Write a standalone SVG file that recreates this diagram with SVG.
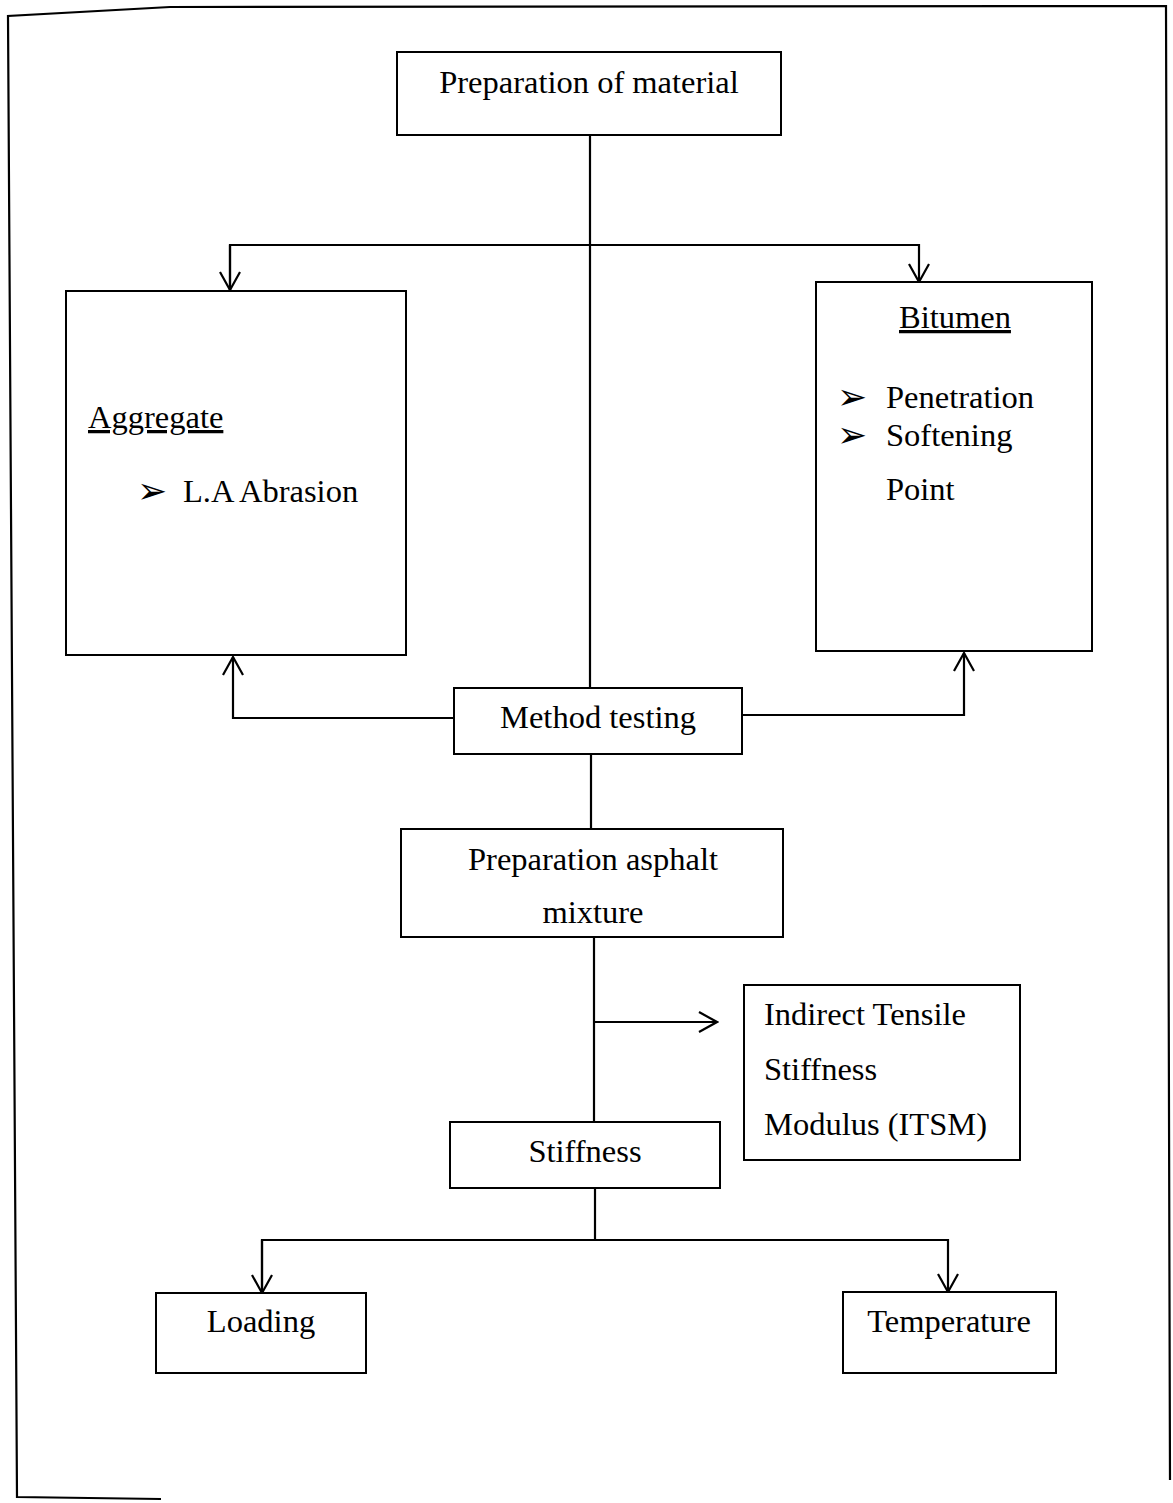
<svg xmlns="http://www.w3.org/2000/svg" width="1173" height="1503" viewBox="0 0 1173 1503">
<style>
.box{fill:#fff;stroke:#000;stroke-width:2}
.t{font-family:"Liberation Serif","Times New Roman",serif;font-size:32.5px;fill:#000}
.c{text-anchor:middle}
.b{font-family:"DejaVu Sans",sans-serif;font-size:36px;fill:#000}
.ln{fill:none;stroke:#000;stroke-width:2.2}
</style>
<defs>
<marker id="ah" viewBox="-20 -12 22 24" refX="0" refY="0" markerWidth="22" markerHeight="24" markerUnits="userSpaceOnUse" orient="auto">
<path d="M-18,-10 L0,0 L-18,10" fill="none" stroke="#000" stroke-width="2.2"/>
</marker>
</defs>
<rect width="1173" height="1503" fill="#fff"/>
<polyline class="ln" points="161,1499 17,1497 8,16 170,7 1166,6 1170,1480" />

<g id="connectors">
<line class="ln" x1="590" y1="135" x2="590" y2="688"/>
<polyline class="ln" points="230,290 230,245 919,245 919,282" marker-end="url(#ah)"/>
<line class="ln" x1="230" y1="245" x2="230" y2="290" marker-end="url(#ah)"/>
<polyline class="ln" points="454,718 233,718 233,657" marker-end="url(#ah)"/>
<polyline class="ln" points="742,715 964,715 964,653" marker-end="url(#ah)"/>
<line class="ln" x1="591" y1="754" x2="591" y2="829"/>
<line class="ln" x1="594" y1="937" x2="594" y2="1122"/>
<line class="ln" x1="594" y1="1022" x2="717" y2="1022" marker-end="url(#ah)"/>
<line class="ln" x1="595" y1="1188" x2="595" y2="1240"/>
<polyline class="ln" points="262,1293 262,1240 948,1240 948,1292" marker-end="url(#ah)"/>
<line class="ln" x1="262" y1="1240" x2="262" y2="1293" marker-end="url(#ah)"/>
</g>

<g id="prep-material">
<rect class="box" x="397" y="52" width="384" height="83"/>
<text class="t c" x="589" y="93">Preparation of material</text>
</g>

<g id="aggregate">
<rect class="box" x="66" y="291" width="340" height="364"/>
<text class="t" x="88" y="428" text-decoration="underline">Aggregate</text>
<text class="b" x="137" y="503">➢</text>
<text class="t" x="183" y="502">L.A Abrasion</text>
</g>

<g id="bitumen">
<rect class="box" x="816" y="282" width="276" height="369"/>
<text class="t" x="899" y="328" text-decoration="underline">Bitumen</text>
<text class="b" x="837" y="409">➢</text>
<text class="t" x="886" y="408">Penetration</text>
<text class="b" x="837" y="447">➢</text>
<text class="t" x="886" y="446">Softening</text>
<text class="t" x="886" y="500">Point</text>
</g>

<g id="method-testing">
<rect class="box" x="454" y="688" width="288" height="66"/>
<text class="t c" x="598" y="728">Method testing</text>
</g>

<g id="prep-asphalt">
<rect class="box" x="401" y="829" width="382" height="108"/>
<text class="t c" x="593" y="870">Preparation asphalt</text>
<text class="t c" x="593" y="923">mixture</text>
</g>

<g id="itsm">
<rect class="box" x="744" y="985" width="276" height="175"/>
<text class="t" x="764" y="1025">Indirect Tensile</text>
<text class="t" x="764" y="1080">Stiffness</text>
<text class="t" x="764" y="1135">Modulus (ITSM)</text>
</g>

<g id="stiffness">
<rect class="box" x="450" y="1122" width="270" height="66"/>
<text class="t c" x="585" y="1162">Stiffness</text>
</g>

<g id="loading">
<rect class="box" x="156" y="1293" width="210" height="80"/>
<text class="t c" x="261" y="1332">Loading</text>
</g>

<g id="temperature">
<rect class="box" x="843" y="1292" width="213" height="81"/>
<text class="t c" x="949" y="1332">Temperature</text>
</g>
</svg>
